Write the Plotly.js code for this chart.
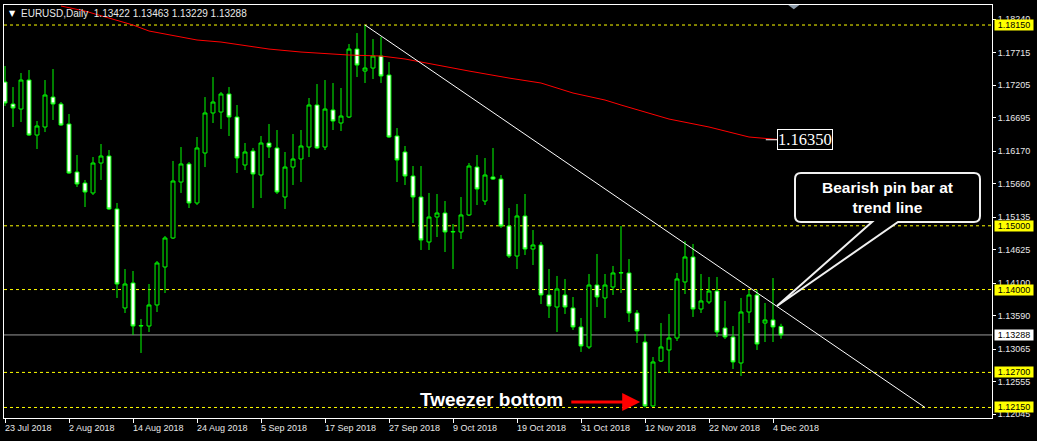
<!DOCTYPE html>
<html><head><meta charset="utf-8">
<script src="https://cdn.plot.ly/plotly-3.0.1.min.js"></script>
<style>html,body{margin:0;padding:0;background:#000;overflow:hidden}#chart{width:1037px;height:441px}</style>
</head><body><div id="chart"></div>
<script>
// ---- data (EURUSD daily) ----
const dates = [
'2018-07-23','2018-07-24','2018-07-25','2018-07-26','2018-07-27','2018-07-30','2018-07-31',
'2018-08-01','2018-08-02','2018-08-03','2018-08-06','2018-08-07','2018-08-08','2018-08-09','2018-08-10',
'2018-08-13','2018-08-14','2018-08-15','2018-08-16','2018-08-17','2018-08-20','2018-08-21','2018-08-22',
'2018-08-23','2018-08-24','2018-08-27','2018-08-28','2018-08-29','2018-08-30','2018-08-31',
'2018-09-03','2018-09-04','2018-09-05','2018-09-06','2018-09-07','2018-09-10','2018-09-11','2018-09-12',
'2018-09-13','2018-09-14','2018-09-17','2018-09-18','2018-09-19','2018-09-20','2018-09-21','2018-09-24',
'2018-09-25','2018-09-26','2018-09-27','2018-09-28',
'2018-10-01','2018-10-02','2018-10-03','2018-10-04','2018-10-05','2018-10-08','2018-10-09','2018-10-10',
'2018-10-11','2018-10-12','2018-10-15','2018-10-16','2018-10-17','2018-10-18','2018-10-19','2018-10-22',
'2018-10-23','2018-10-24','2018-10-25','2018-10-26','2018-10-29','2018-10-30','2018-10-31',
'2018-11-01','2018-11-02','2018-11-05','2018-11-06','2018-11-07','2018-11-08','2018-11-09','2018-11-12',
'2018-11-13','2018-11-14','2018-11-15','2018-11-16','2018-11-19','2018-11-20','2018-11-21','2018-11-22',
'2018-11-23','2018-11-26','2018-11-27','2018-11-28','2018-11-29','2018-11-30',
'2018-12-03','2018-12-04','2018-12-05'];

const open = [
1.17256,1.16911,1.16832,1.17287,1.16424,1.16550,1.17020,1.16911,1.16597,1.15844,
1.15671,1.15515,1.15985,1.16095,1.15264,1.13711,1.14103,1.13428,1.13428,1.13758,
1.14354,1.14809,1.15687,1.15970,1.15358,1.16142,1.16770,1.16785,1.17068,1.16707,
1.15954,1.16173,1.15797,1.16299,1.16221,1.15452,1.15922,1.16048,1.16236,1.16895,
1.16236,1.16817,1.16613,1.16707,1.17773,1.17428,1.17475,1.17664,1.17366,1.16409,
1.16158,1.15781,1.15452,1.14746,1.15138,1.15201,1.14903,1.14903,1.15170,1.15922,
1.15389,1.15766,1.15734,1.14997,1.14526,1.15154,1.14636,1.14699,1.13915,1.13726,
1.13915,1.13711,1.13413,1.13099,1.14071,1.13868,1.14040,1.14260,1.14260,1.13632,
1.13177,1.12174,1.12879,1.13052,1.13240,1.14119,1.14511,1.13695,1.13805,1.13977,
1.13397,1.13256,1.12848,1.13648,1.13915,1.13475,1.13523,1.13422];

const high = [
1.17507,1.17177,1.17397,1.17444,1.16644,1.17287,1.17460,1.16942,1.16754,1.16111,
1.15719,1.16079,1.16283,1.16189,1.15358,1.14322,1.14291,1.13538,1.14087,1.14448,
1.14840,1.16017,1.16236,1.16001,1.16393,1.17020,1.17334,1.17099,1.17177,1.16895,
1.16299,1.16221,1.16409,1.16597,1.16503,1.16158,1.16440,1.16503,1.17005,1.17224,
1.17287,1.17240,1.17162,1.17852,1.18024,1.18150,1.17930,1.17962,1.17569,1.16534,
1.16252,1.15938,1.15938,1.15515,1.15499,1.15389,1.15028,1.15452,1.15985,1.16111,
1.16064,1.16221,1.15797,1.15279,1.15342,1.15499,1.14934,1.14746,1.14322,1.14213,
1.14166,1.13883,1.13554,1.14244,1.14558,1.14244,1.14370,1.14997,1.14479,1.13679,
1.13303,1.12942,1.13475,1.13617,1.14260,1.14762,1.14715,1.14244,1.14197,1.14197,
1.13821,1.13428,1.13868,1.13993,1.13993,1.13789,1.14181,1.13463];

const low = [
1.16879,1.16550,1.16628,1.16409,1.16205,1.16471,1.16660,1.16566,1.15813,1.15609,
1.15295,1.15483,1.15719,1.15248,1.13868,1.13632,1.13287,1.13005,1.13334,1.13648,
1.13946,1.14793,1.15515,1.15279,1.15326,1.15922,1.16613,1.16519,1.16409,1.15828,
1.15875,1.15279,1.15436,1.16064,1.15499,1.15264,1.15640,1.15687,1.16079,1.16205,
1.16189,1.16503,1.16487,1.16691,1.17334,1.17240,1.17303,1.17240,1.16377,1.15687,
1.15640,1.15044,1.14621,1.14621,1.14824,1.14589,1.14322,1.14793,1.15154,1.15326,
1.15326,1.15719,1.14966,1.14495,1.14322,1.14542,1.14385,1.13773,1.13554,1.13334,
1.13617,1.13366,1.13021,1.13068,1.13726,1.13554,1.13915,1.13946,1.13491,1.13162,
1.12150,1.12158,1.12864,1.12691,1.13193,1.13930,1.13570,1.13632,1.13773,1.13256,
1.13224,1.12754,1.12644,1.13475,1.13052,1.13177,1.13177,1.13229];

const close = [
1.16926,1.16848,1.17287,1.16424,1.16566,1.17052,1.16911,1.16581,1.15828,1.15656,
1.15530,1.15985,1.16095,1.15264,1.14087,1.14087,1.13428,1.13435,1.13758,1.14417,
1.14809,1.15703,1.15970,1.15358,1.16221,1.16770,1.16942,1.17068,1.16707,1.16064,
1.16158,1.15813,1.16299,1.16236,1.15530,1.15922,1.16048,1.16252,1.16895,1.16221,
1.16832,1.16644,1.16722,1.17773,1.17522,1.17475,1.17664,1.17350,1.16393,1.16032,
1.15781,1.15452,1.14777,1.15138,1.15201,1.14903,1.14910,1.15170,1.15938,1.15577,
1.15797,1.15734,1.14997,1.14526,1.15154,1.14636,1.14699,1.13915,1.13742,1.14009,
1.13726,1.13413,1.13115,1.14071,1.13883,1.14071,1.14260,1.14265,1.13632,1.13350,
1.12174,1.12864,1.13099,1.13240,1.14166,1.14511,1.13695,1.13821,1.13977,1.13334,
1.13256,1.12864,1.13648,1.13915,1.13146,1.13523,1.13413,1.13288];

// 200-day moving average, read at sample bars
const maBar   = [7,10,16,18,24,27,33,37,43,47,50,52,56,58,63,67,71,75,77,80,83,88,93,97];
const maValue = [1.18448,1.18369,1.18150,1.18056,1.17915,1.17883,1.17773,1.17726,1.17679,1.17664,
                 1.17617,1.17569,1.17475,1.17428,1.17318,1.17240,1.17083,1.16973,1.16895,1.16785,
                 1.16675,1.16550,1.16393,1.16350];
const maLabel = '1.16350';

const xTickDates  = ['2018-07-23','2018-08-02','2018-08-14','2018-08-24','2018-09-05','2018-09-17','2018-09-27',
                     '2018-10-09','2018-10-19','2018-10-31','2018-11-12','2018-11-22','2018-12-04'];
const xTickLabels = ['23 Jul 2018','2 Aug 2018','14 Aug 2018','24 Aug 2018','5 Sep 2018','17 Sep 2018','27 Sep 2018',
                     '9 Oct 2018','19 Oct 2018','31 Oct 2018','12 Nov 2018','22 Nov 2018','4 Dec 2018'];
const yTickValues = [1.18240,1.17715,1.17205,1.16695,1.16170,1.15660,1.15135,1.14625,1.14100,1.13590,1.13065,1.12555,1.12045];
const levelLines  = [1.18150,1.15000,1.14000,1.12700,1.12150];
const bidPrice    = 1.13288;
const trendFrom   = {bar: 45, price: 1.18150};
const trendTo     = {bar: 115, price: 1.12150};

// ---- chart ----
const xPos = dates.map((d, i) => i);
const xTickPos = xTickDates.map(d => dates.indexOf(d));
const last = dates.length - 1;

const traces = [
  {type:'candlestick', x:xPos, open:open, high:high, low:low, close:close,
   increasing:{line:{color:'#00ff00', width:1}, fillcolor:'#000000'},
   decreasing:{line:{color:'#00ff00', width:1}, fillcolor:'#ffffff'},
   whiskerwidth:0, hoverinfo:'skip'},
  {type:'scatter', mode:'lines', x:maBar, y:maValue, line:{color:'#ff0000', width:1}, hoverinfo:'skip'}
];

const shapes = [];
levelLines.forEach(v => shapes.push({type:'line', xref:'paper', x0:0, x1:1, yref:'y', y0:v, y1:v,
  line:{color:'#ffff00', width:1, dash:'3px,3px'}, layer:'below'}));
shapes.push({type:'line', xref:'paper', x0:0, x1:1, yref:'y', y0:bidPrice, y1:bidPrice,
  line:{color:'#9a9a9a', width:1}, layer:'below'});
shapes.push({type:'line', xref:'x', yref:'y', x0:trendFrom.bar, y0:trendFrom.price, x1:trendTo.bar, y1:trendTo.price,
  line:{color:'#ffffff', width:1}, layer:'above'});
// leader from MA end to label
shapes.push({type:'line', xref:'x', yref:'y', x0:maBar[maBar.length-1]-1.9, x1:maBar[maBar.length-1]-0.5,
  y0:maValue[maValue.length-1], y1:maValue[maValue.length-1], line:{color:'#ffffff', width:1}, layer:'above'});
// callout bubble
shapes.push({type:'path', xref:'x', yref:'y', layer:'above', fillcolor:'#000000', line:{color:'#f0f0f0', width:2},
  path:'M 99.5,1.15828 L 121.125,1.15828 Q 121.875,1.15828 121.875,1.15734 L 121.875,1.15154 Q 121.875,1.15060 121.125,1.15060 L 111.625,1.15060 L 96.5,1.13742 L 108.375,1.15060 L 99.5,1.15060 Q 98.75,1.15060 98.75,1.15154 L 98.75,1.15734 Q 98.75,1.15828 99.5,1.15828 Z'});
// chart shift marker
shapes.push({type:'path', xref:'x', yref:'y', layer:'above', fillcolor:'#8c9aa8', line:{width:0},
  path:'M 97.9,1.18464 L 99.3,1.18464 L 98.6,1.18396 Z'});

const annotations = [];
annotations.push({xref:'paper', yref:'paper', x:0, y:1, xanchor:'left', yanchor:'middle', xshift:3, yshift:-8,
  text:'▼', showarrow:false, font:{family:'DejaVu Sans', size:8, color:'#ffffff'}});
annotations.push({xref:'paper', yref:'paper', x:0, y:1, xanchor:'left', yanchor:'middle', xshift:15, yshift:-8,
  text:'EURUSD,Daily\u00a0\u00a0' + [open[last],high[last],low[last],close[last]].map(v=>v.toFixed(5)).join(' '),
  showarrow:false, font:{family:'Liberation Sans, Arial', size:10, color:'#e8e8e8'}});
levelLines.forEach(v => annotations.push({xref:'paper', yref:'y', x:1, y:v, xanchor:'left', yanchor:'middle', xshift:2,
  text:v.toFixed(5), showarrow:false, bgcolor:'#ffff00', width:38, height:10, borderpad:0,
  font:{family:'Liberation Sans, Arial', size:9, color:'#000000'}}));
annotations.push({xref:'paper', yref:'y', x:1, y:bidPrice, xanchor:'left', yanchor:'middle', xshift:2,
  text:bidPrice.toFixed(5), showarrow:false, bgcolor:'#ffffff', width:38, height:10, borderpad:0,
  font:{family:'Liberation Sans, Arial', size:9, color:'#000000'}});
annotations.push({xref:'x', yref:'y', x:maBar[maBar.length-1]-0.5, y:maValue[maValue.length-1], xanchor:'left', yanchor:'middle',
  text:maLabel, showarrow:false, bgcolor:'#000000', bordercolor:'#ffffff', borderwidth:1, borderpad:0,
  font:{family:'Liberation Serif, Times New Roman', size:16.5, color:'#ffffff'}});
annotations.push({xref:'x', yref:'y', x:60.8, y:1.12268, xanchor:'center', yanchor:'middle',
  text:'<b>Tweezer bottom</b>', showarrow:false, font:{family:'Liberation Sans, Arial', size:19, color:'#ffffff'}});
annotations.push({xref:'x', yref:'y', x:79.4, y:1.12236, axref:'x', ayref:'y', ax:70.6, ay:1.12236,
  text:'', showarrow:true, arrowhead:2, arrowsize:1.2, arrowwidth:3, arrowcolor:'#ff0000'});
annotations.push({xref:'x', yref:'y', x:110.3, y:1.15444, xanchor:'center', yanchor:'middle',
  text:'<b>Bearish pin bar at<br>trend line</b>', showarrow:false, font:{family:'Liberation Sans, Arial', size:15.5, color:'#ffffff'}});
xTickPos.forEach((p, k) => annotations.push({xref:'x', yref:'paper', x:p, y:0, xanchor:'left', yanchor:'top',
  xshift:-2, yshift:-3, text:xTickLabels[k], showarrow:false,
  font:{family:'Liberation Sans, Arial', size:9, color:'#e8e8e8'}}));

const layout = {
  width:1037, height:441, margin:{l:4, r:45, t:5, b:23, pad:0},
  paper_bgcolor:'#000000', plot_bgcolor:'#000000', showlegend:false, hovermode:false, dragmode:false,
  font:{family:'Liberation Sans, Arial, sans-serif', size:9, color:'#e8e8e8'},
  xaxis:{type:'linear', range:[-0.125, 123.375], showgrid:false, zeroline:false, showline:true, mirror:true,
    linecolor:'#ffffff', linewidth:1, ticks:'outside', ticklen:4, tickcolor:'#ffffff', tickvals:xTickPos,
    showticklabels:false, rangeslider:{visible:false}, fixedrange:true},
  yaxis:{side:'right', range:[1.11985, 1.18464], showgrid:false, zeroline:false, showline:true, mirror:true,
    linecolor:'#ffffff', linewidth:1, ticks:'outside', ticklen:3, tickcolor:'#ffffff',
    tickvals:yTickValues, ticktext:yTickValues.map(v => v.toFixed(5)),
    tickfont:{family:'Liberation Sans, Arial', size:9, color:'#e8e8e8'}, fixedrange:true},
  shapes:shapes, annotations:annotations
};

Plotly.newPlot('chart', traces, layout, {staticPlot:true, displayModeBar:false});
</script>
</body></html>
